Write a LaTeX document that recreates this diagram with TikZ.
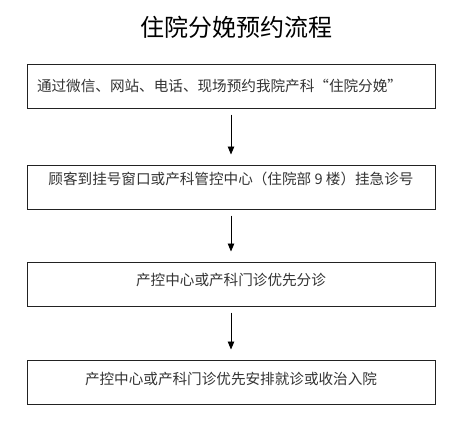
\documentclass[tikz,border=0pt]{standalone}
\usepackage{fontspec}
\setmainfont{Noto Sans CJK SC}
\usepackage{tikz}
\usetikzlibrary{arrows.meta,positioning}
\definecolor{framegray}{HTML}{222222}
\definecolor{textgray}{HTML}{333333}
\tikzset{
  >={Triangle[length=8pt,width=6.5pt]},
  stepbox/.style={
    draw=framegray, line width=1pt, rectangle, align=center, inner xsep=10pt,
    font=\fontsize{14.6pt}{17pt}\selectfont, text=textgray,
    minimum width=408pt, minimum height=44pt
  },
  flow/.style={->, line width=0.9pt, shorten <=6pt, shorten >=10pt},
}

\begin{document}
\begin{tikzpicture}[x=1pt, y=-1pt, node distance=52pt]
  \useasboundingbox (0,0) rectangle (468,434);
  \node[font=\fontsize{24pt}{28pt}\selectfont] (title) at (236,27) {住院分娩预约流程};
  \node[stepbox, text width=388pt, align=left] (web) at (231,86) {通过微信、网站、电话、现场预约我院产科“住院分娩”};
  \node[stepbox, below=56pt of web, text depth=18pt] (reg) {顾客到挂号窗口或产科管控中心（住院部 9 楼）挂急诊号};
  \node[stepbox, below=of reg, text depth=10pt] (triage) {产控中心或产科门诊优先分诊};
  \node[stepbox, below=53pt of triage, text depth=7pt] (admit) {产控中心或产科门诊优先安排就诊或收治入院};
  \draw[flow] (web) -- (reg);
  \draw[flow] (reg) -- (triage);
  \draw[flow] (triage) -- (admit);
\end{tikzpicture}
\end{document}
